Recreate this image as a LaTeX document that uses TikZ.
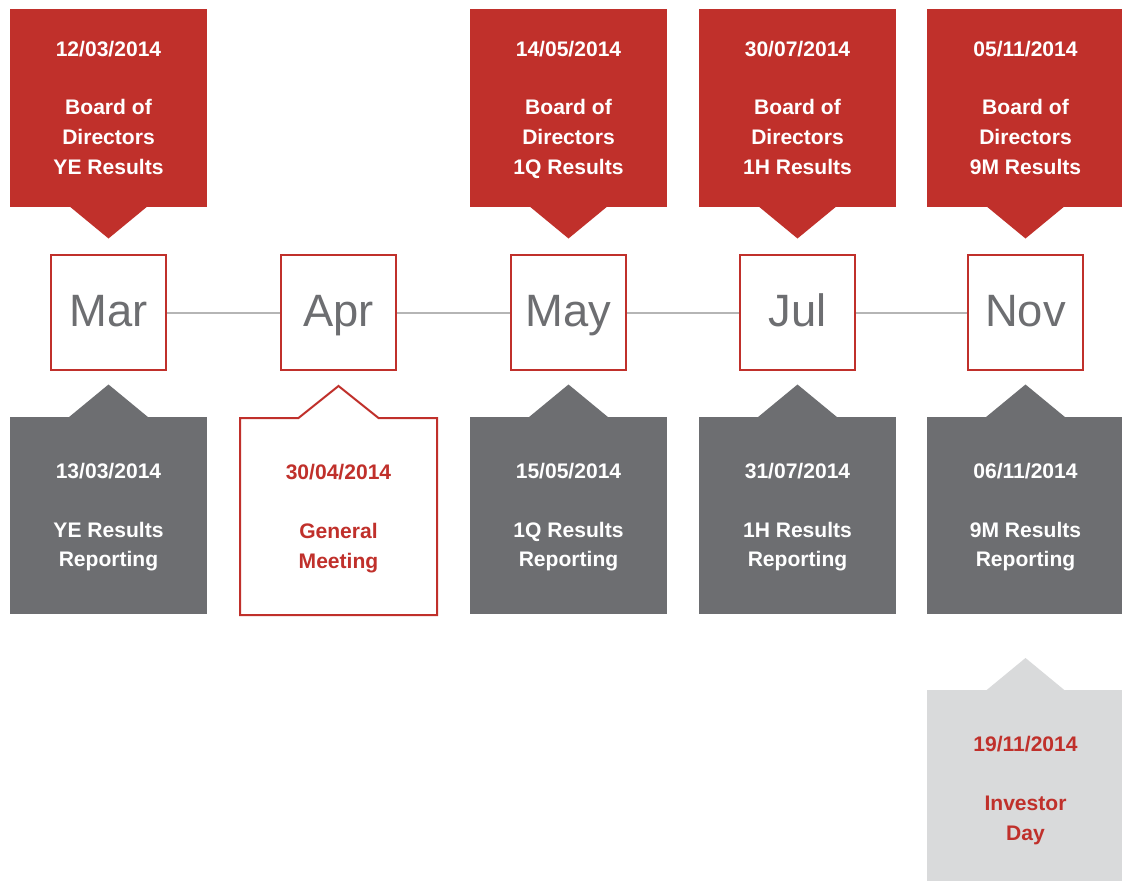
\documentclass[tikz,border=0pt]{standalone}
\usepackage{fontspec}
\setmainfont{Liberation Sans}
\usetikzlibrary{calc}

\definecolor{brandred}{HTML}{C0302B}
\definecolor{darkgrey}{HTML}{6D6E71}
\definecolor{lightgrey}{HTML}{D9DADB}
\definecolor{linegrey}{HTML}{B5B5B5}

\begin{document}
\begin{tikzpicture}[x=0.75pt,y=-0.75pt,
  month/.style={draw=brandred, line width=1.6pt, fill=white, inner sep=0pt,
    minimum size=86.25pt, text=darkgrey, text height=24.3pt, text depth=3.7pt,
    font=\fontsize{34}{34}\selectfont},
  timeline/.style={draw=linegrey, line width=1.5pt},
  callout/.style={inner sep=0pt, outer sep=0pt, minimum width=147.75pt,
    minimum height=147.75pt, align=center, text depth=0pt,
    font=\bfseries\fontsize{15.8}{22.3}\selectfont},
  lowered/.style={text depth=-3.5pt},
  boardbox/.style={callout, fill=brandred, text=white},
  reportbox/.style={callout, lowered, fill=darkgrey, text=white},
  meetingbox/.style={callout, text=brandred},
  investorbox/.style={callout, lowered, fill=lightgrey, text=brandred},
]
\clip (0,0) rectangle (1122,881);
\fill[white] (0,0) rectangle (1122,881);

% months on the timeline
\node[month] (mar) at (108.5,312.5) {Mar};
\node[month] (apr) at (338.5,312.5) {Apr};
\node[month] (may) at (568.5,312.5) {May};
\node[month] (jul) at (797.5,312.5) {Jul};
\node[month] (nov) at (1025.5,312.5) {Nov};
\foreach \a/\b in {mar/apr,apr/may,may/jul,jul/nov}
  \draw[timeline] (\a) -- (\b);

% board meetings above the timeline, pointing down
\node[boardbox] (mar-board) at (108.5,108) {12/03/2014\\[21.2pt]Board of\\Directors\\YE Results};
\node[boardbox] (may-board) at (568.5,108) {14/05/2014\\[21.2pt]Board of\\Directors\\1Q Results};
\node[boardbox] (jul-board) at (797.5,108) {30/07/2014\\[21.2pt]Board of\\Directors\\1H Results};
\node[boardbox] (nov-board) at (1025.5,108) {05/11/2014\\[21.2pt]Board of\\Directors\\9M Results};
\foreach \b in {mar-board,may-board,jul-board,nov-board}
  \fill[brandred] ($(\b.south)+(-40,-1)$) -- ($(\b.south)+(40,-1)$)
    -- ($(\b.south)+(0,32)$) -- cycle;

% results reporting below the timeline, pointing up
\node[reportbox] (mar-report) at (108.5,515) {13/03/2014\\[21.7pt]YE Results\\Reporting};
\node[reportbox] (may-report) at (568.5,515) {15/05/2014\\[21.7pt]1Q Results\\Reporting};
\node[reportbox] (jul-report) at (797.5,515) {31/07/2014\\[21.7pt]1H Results\\Reporting};
\node[reportbox] (nov-report) at (1025.5,515) {06/11/2014\\[21.7pt]9M Results\\Reporting};
\foreach \b in {mar-report,may-report,jul-report,nov-report}
  \fill[darkgrey] ($(\b.north)+(-40,1)$) -- ($(\b.north)+(40,1)$)
    -- ($(\b.north)+(0,-32)$) -- cycle;

% general meeting: outlined callout
\node[meetingbox] (apr-meeting) at (338.5,516.5) {30/04/2014\\[21.7pt]General\\Meeting};
\draw[brandred, line width=1.5pt] (apr-meeting.north west)
  -- ($(apr-meeting.north)+(-40,0)$) -- ($(apr-meeting.north)+(0,-32)$)
  -- ($(apr-meeting.north)+(40,0)$) -- (apr-meeting.north east)
  -- (apr-meeting.south east) -- (apr-meeting.south west) -- cycle;

% investor day
\node[investorbox] (nov-investor) at (1025.5,788.5) {19/11/2014\\[21.7pt]Investor\\Day};
\fill[lightgrey] ($(nov-investor.north)+(-40,1)$) -- ($(nov-investor.north)+(40,1)$)
  -- ($(nov-investor.north)+(0,-32)$) -- cycle;
\end{tikzpicture}
\end{document}
